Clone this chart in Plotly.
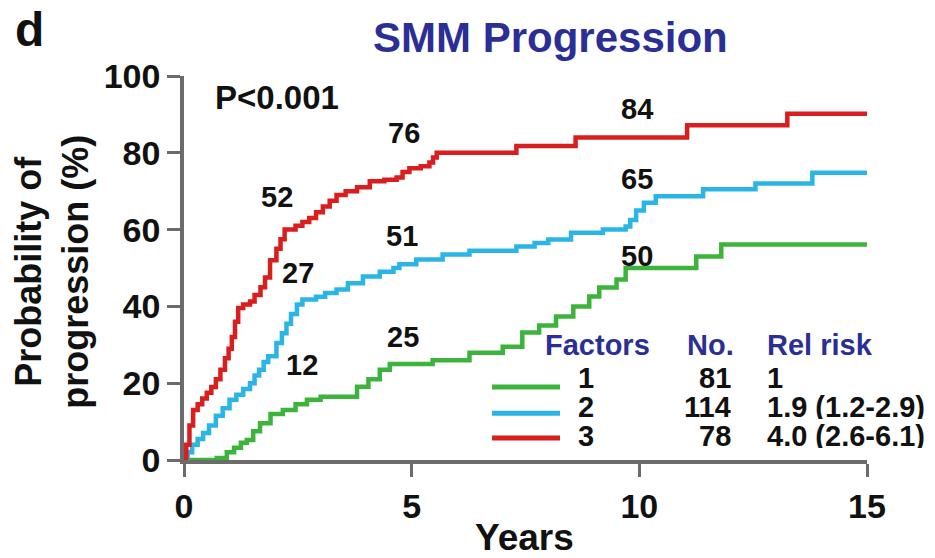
import plotly.graph_objects as go

# Kaplan-Meier style cumulative probability of progression by number of risk factors
years_f1 = [0, 0.5, 0.72, 0.94, 1.1, 1.25, 1.38, 1.52, 1.67, 1.9, 2.17, 2.45, 2.7, 3.0,
            3.8, 4.05, 4.3, 4.52, 5.46, 6.27, 7.0, 7.43, 7.8, 8.17, 8.55, 8.9, 9.12,
            9.5, 9.7, 11.25, 11.8, 15]
prog_f1 = [0, 0, 0.5, 2, 3.2, 4.5, 5.2, 7.5, 9.6, 12, 13, 14.5, 15.7, 16.5,
           19.1, 21, 23.5, 25, 26, 27.9, 29.5, 33.2, 35, 37.4, 40, 42.6, 44.9,
           47, 50, 53, 56.1, 56.1]

years_f2 = [0, 0.08, 0.18, 0.3, 0.42, 0.55, 0.7, 0.85, 1.0, 1.15, 1.3, 1.45, 1.55, 1.65,
            1.75, 1.85, 2.03, 2.15, 2.25, 2.35, 2.48, 2.6, 2.9, 3.1, 3.35, 3.6, 3.93,
            4.3, 4.6, 4.73, 5.1, 5.68, 6.27, 7.3, 7.7, 8.0, 8.5, 9.2, 9.7, 9.8, 9.93,
            10.1, 10.36, 11.4, 12.55, 13.8, 15]
prog_f2 = [0, 2, 4, 5.5, 7, 9, 11.5, 13.5, 15.7, 17, 18.5, 20, 22, 23.5,
           25.5, 27, 30.5, 33, 35.5, 38, 40.5, 41.8, 42.5, 43.5, 44.4, 46, 47.8,
           49, 50, 51, 52.2, 53.5, 54.5, 55.6, 56.5, 57.4, 59.2, 60, 60.8, 62.5, 65,
           67, 68.7, 70.5, 72.0, 74.8, 74.8]

years_f3 = [0, 0.05, 0.12, 0.2, 0.3, 0.4, 0.5, 0.6, 0.7, 0.8, 0.9, 0.98, 1.05, 1.12,
            1.19, 1.3, 1.45, 1.55, 1.68, 1.78, 1.89, 2.03, 2.12, 2.21, 2.45, 2.6,
            2.75, 2.9, 3.05, 3.2, 3.35, 3.55, 3.8, 4.08, 4.4, 4.67, 4.8, 4.95, 5.2,
            5.39, 5.47, 5.55, 7.3, 8.6, 11.05, 13.25, 15]
prog_f3 = [0, 4, 9, 13, 14.5, 16, 17.5, 19, 21, 23.5, 26.5, 29, 32, 36,
           39.6, 40.5, 41.3, 43, 45, 47.5, 52, 55, 57.5, 60, 61, 62,
           63, 64.5, 66, 67.5, 69, 70, 71, 72.6, 73, 73.6, 75, 76, 76.5,
           77.5, 78.8, 80, 81.8, 84, 87.2, 90.2, 90.2]

# Progression (%) at 2, 5 and 10 years, printed beside each curve
landmark_years = [2, 5, 10]
landmark_f1 = [12, 25, 50]
landmark_f2 = [27, 51, 65]
landmark_f3 = [52, 76, 84]

# Legend table
factor_labels = ["1", "2", "3"]
patient_counts = ["81", "114", "78"]
relative_risks = ["1", "1.9 (1.2-2.9)", "4.0 (2.6-6.1)"]

x_ticks = [0, 5, 10, 15]
y_ticks = [0, 20, 40, 60, 80, 100]

GREEN = "#3cb43c"
BLUE = "#2bb5e6"
RED = "#da1d1d"
NAVY = "#2b2f95"
AXIS = "#6b6b6b"
FONT = "Liberation Sans, Arial, sans-serif"

series = [
    (years_f1, prog_f1, landmark_f1, GREEN),
    (years_f2, prog_f2, landmark_f2, BLUE),
    (years_f3, prog_f3, landmark_f3, RED),
]

fig = go.Figure()
for yrs, prog, _, color in series:
    fig.add_trace(go.Scatter(
        x=yrs, y=prog, mode="lines", line=dict(color=color, width=4.5, shape="hv"),
        showlegend=False, hoverinfo="skip",
    ))

# label placement (data coords) for the landmark values, per series
label_pos = [
    [(2.59, 24.7), (4.81, 32.0), (9.95, 53.0)],
    [(2.50, 48.7), (4.79, 58.3), (9.95, 73.2)],
    [(2.04, 68.5), (4.83, 85.2), (9.95, 91.4)],
]

annotations = []
for (_, _, marks, _), positions in zip(series, label_pos):
    for val, (lx, ly) in zip(marks, positions):
        annotations.append(dict(
            x=lx, y=ly, xref="x", yref="y", text=str(val), showarrow=False,
            font=dict(family=FONT, size=29, color="#111111", weight="bold"),
            xanchor="center", yanchor="middle",
        ))

annotations.append(dict(
    x=0.64, y=94.5, xref="x", yref="y", text="P<0.001", showarrow=False,
    font=dict(family=FONT, size=33, color="#111111", weight="bold"),
    xanchor="left", yanchor="middle",
))

# legend table drawn in paper coordinates
header_y = 0.2995
row_y = [0.2135, 0.138, 0.0625]
line_y = [0.190, 0.122, 0.057]
hdr_font = dict(family=FONT, size=29, color=NAVY, weight="bold")
row_font = dict(family=FONT, size=29, color="#111111", weight="bold")
legend_notes = [
    dict(x=0.5256, y=header_y, text="Factors", xanchor="left", font=hdr_font, height=30),
    dict(x=0.7335, y=header_y, text="No.", xanchor="left", font=hdr_font, height=30),
    dict(x=0.8507, y=header_y, text="Rel risk", xanchor="left", font=hdr_font, height=30),
]
shapes = []
for i, (_, _, _, color) in enumerate(series):
    legend_notes.append(dict(x=0.5886, y=row_y[i], text=factor_labels[i],
                             xanchor="center", font=row_font, height=24))
    legend_notes.append(dict(x=0.8038, y=row_y[i], text=patient_counts[i],
                             xanchor="right", font=row_font, height=24))
    legend_notes.append(dict(x=0.8507, y=row_y[i], text=relative_risks[i],
                             xanchor="left", font=row_font, height=24))
    shapes.append(dict(type="line", xref="paper", yref="paper",
                       x0=0.451, x1=0.5505, y0=line_y[i], y1=line_y[i],
                       line=dict(color=color, width=5)))

for a in legend_notes:
    a.update(xref="paper", yref="paper", showarrow=False, yanchor="middle")
annotations += legend_notes

# titles and panel letter
annotations += [
    dict(x=-0.1933, y=0.49, xref="paper", yref="paper",
         text="Probability of<br>progression (%)", textangle=-90, showarrow=False,
         xanchor="center", yanchor="middle",
         font=dict(family=FONT, size=36, color="#111111", weight="bold")),
    dict(x=0.499, y=-0.203, xref="paper", yref="paper", text="Years",
         showarrow=False, xanchor="center", yanchor="middle",
         font=dict(family=FONT, size=37, color="#111111", weight="bold")),
    dict(x=-0.2255, y=1.12, xref="paper", yref="paper", text="d",
         showarrow=False, xanchor="center", yanchor="middle",
         font=dict(family=FONT, size=48, color="#111111", weight="bold")),
    dict(x=0.536, y=1.099, xref="paper", yref="paper", text="SMM Progression",
         showarrow=False, xanchor="center", yanchor="middle",
         font=dict(family=FONT, size=42, color=NAVY, weight="bold")),
]

axis_common = dict(
    showline=True, linecolor=AXIS, linewidth=3.5, showgrid=False, zeroline=False,
    ticks="outside", ticklen=13, tickwidth=3, tickcolor=AXIS,
    tickfont=dict(family=FONT, size=34, color="#111111", weight="bold"),
)

fig.update_layout(
    width=935, height=558,
    margin=dict(l=184, r=68, t=76, b=98),
    paper_bgcolor="white", plot_bgcolor="white",
    xaxis=dict(range=[0, 15], tickvals=x_ticks, **axis_common),
    yaxis=dict(range=[0, 100], tickvals=y_ticks, **axis_common),
    annotations=annotations,
    shapes=shapes,
)

fig.write_html("out.html")
